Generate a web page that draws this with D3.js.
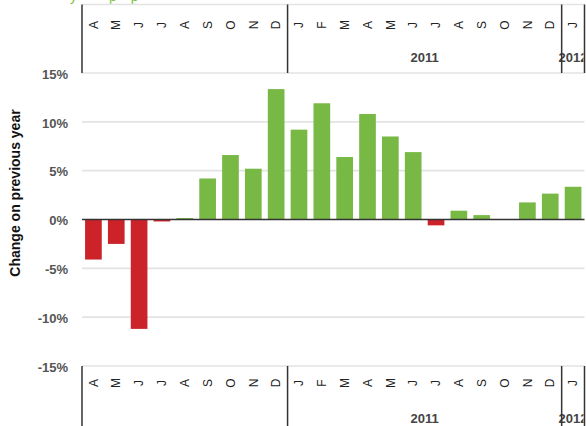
<!DOCTYPE html>
<html><head><meta charset="utf-8">
<script src="https://cdn.jsdelivr.net/npm/d3@7"></script>
<style>html,body{margin:0;padding:0;background:#fff;}svg{display:block;}</style>
</head><body>
<svg id="c" width="586" height="426"></svg>
<script>
const months = ["A","M","J","J","A","S","O","N","D","J","F","M","A","M","J","J","A","S","O","N","D","J"];
const monthIds = ["2010-04","2010-05","2010-06","2010-07","2010-08","2010-09","2010-10","2010-11","2010-12","2011-01","2011-02","2011-03","2011-04","2011-05","2011-06","2011-07","2011-08","2011-09","2011-10","2011-11","2011-12","2012-01"];
const values = [-4.1,-2.5,-11.2,-0.2,0.15,4.2,6.6,5.2,13.35,9.2,11.9,6.4,10.8,8.5,6.9,-0.6,0.9,0.45,0,1.75,2.65,3.35];
const yearGroups = [{label:"",start:0,end:9},{label:"2011",start:9,end:21},{label:"2012",start:21,end:22}];
const yTicks = [-15,-10,-5,0,5,10,15];

const svg = d3.select("#c");
const left = 82, right = 584.5;
const x = d3.scaleBand().domain(monthIds).range([left,right]).paddingInner(0.27).paddingOuter(0.135);
const step = x.step();
const xb = i => left + i*step;
const y = d3.scaleLinear().domain([-15,15]).range([366,73]);

const font = "Liberation Sans, Arial, sans-serif";

// top title fragment (clipped in the reference)
svg.append("text").attr("x",70).attr("y",1).attr("font-family",font).attr("font-size",14)
  .attr("fill","#7cc242").attr("letter-spacing","14px").text("y pp");

// gridlines
svg.append("g").selectAll("line").data(yTicks.filter(d=>d!==0)).join("line")
  .attr("x1",left).attr("x2",right).attr("y1",d=>y(d)).attr("y2",d=>y(d))
  .attr("stroke","#e3e3e3").attr("stroke-width",1.6);
svg.append("line").attr("x1",left).attr("x2",right).attr("y1",4.5).attr("y2",4.5)
  .attr("stroke","#e3e3e3").attr("stroke-width",1.6);

// y tick labels
const yAxis = d3.axisLeft(y).tickValues(yTicks).tickSize(0).tickPadding(0).tickFormat(d=>d+"%");
const ga = svg.append("g").attr("transform","translate(68,1)").call(yAxis);
ga.select(".domain").remove();
ga.selectAll("text").attr("font-family",font).attr("font-size",13).attr("font-weight","bold").attr("fill","#555");

// y title
svg.append("text").attr("transform","translate(20,193) rotate(-90)").attr("text-anchor","middle")
  .attr("font-family",font).attr("font-size",14).attr("font-weight","bold").attr("fill","#111")
  .text("Change on previous year");

// bars
svg.append("g").selectAll("rect").data(values).join("rect")
  .attr("x",(d,i)=>x(monthIds[i])).attr("width",x.bandwidth())
  .attr("y",d=>y(Math.max(0,d))).attr("height",d=>Math.abs(y(d)-y(0)))
  .attr("fill",d=>d<0?"#cc2229":"#78b845");

// zero line
svg.append("line").attr("x1",left).attr("x2",right).attr("y1",y(0)).attr("y2",y(0))
  .attr("stroke","#333").attr("stroke-width",1.5);

svg.append("defs").append("clipPath").attr("id","cp").append("rect")
  .attr("x",0).attr("y",0).attr("width",right-1).attr("height",426);

function catAxis(yTop,yBot,yLetter,yYear){
  const g = svg.append("g").attr("clip-path","url(#cp)");
  g.selectAll("text.m").data(months).join("text").attr("class","m")
    .attr("transform",(d,i)=>`translate(${x(monthIds[i])+x.bandwidth()/2},${yLetter}) rotate(-90)`)
    .attr("text-anchor","middle").attr("dy","0.35em")
    .attr("font-family",font).attr("font-size",12).attr("fill","#222").text(d=>d);
  const g2 = svg.append("g");
  const bounds = [0,9,21,22];
  g2.selectAll("line.d").data(bounds).join("line").attr("class","d")
    .attr("x1",i=>xb(i)).attr("x2",i=>xb(i)).attr("y1",yTop).attr("y2",yBot)
    .attr("stroke","#333").attr("stroke-width",1.5);
  g.selectAll("text.yr").data(yearGroups.filter(d=>d.label)).join("text").attr("class","yr")
    .attr("x",d=>(xb(d.start)+xb(d.end))/2).attr("y",yYear).attr("dy","0.35em")
    .attr("text-anchor","middle").attr("font-family",font).attr("font-size",13).attr("font-weight","bold")
    .attr("fill","#444").text(d=>d.label);
}
catAxis(4.5,73,25,57);
catAxis(366,426,383,418);
</script>
</body></html>
